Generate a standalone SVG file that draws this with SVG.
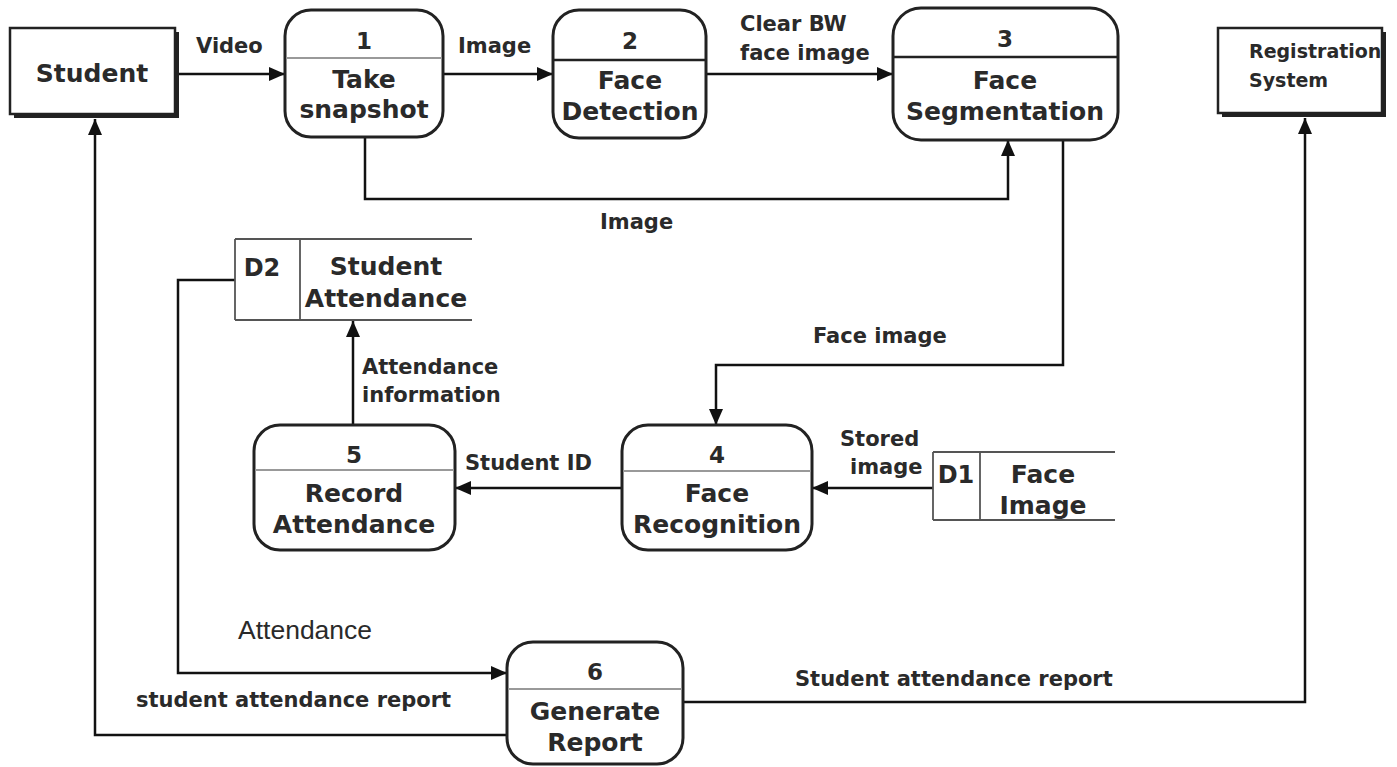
<svg xmlns="http://www.w3.org/2000/svg" width="1397" height="767" viewBox="0 0 1397 767">
<defs>
<marker id="arr" viewBox="0 0 16 14" refX="16" refY="7" markerWidth="16" markerHeight="14" markerUnits="userSpaceOnUse" orient="auto">
<path d="M0,0 L16,7 L0,14 Z" fill="#111"/>
</marker>
</defs>
<style>
.proc{fill:#fff;stroke:#222;stroke-width:3}
.ext{fill:#fff;stroke:#222;stroke-width:2.5}
.shadow{fill:#222}
.div{stroke:#999;stroke-width:2}
.divd{stroke:#222;stroke-width:2.5}
.ds{stroke:#555;stroke-width:1.8;fill:none}
.t{font-family:"DejaVu Sans",Verdana,sans-serif;font-weight:bold;fill:#2a2a2a;font-size:25px;text-anchor:middle}
.n{font-family:"DejaVu Sans",Verdana,sans-serif;font-weight:bold;fill:#2a2a2a;font-size:23px;text-anchor:middle}
.l{font-family:"DejaVu Sans",Verdana,sans-serif;font-weight:bold;fill:#2a2a2a;font-size:21px}
.lr{font-family:"Liberation Sans",Arial,sans-serif;fill:#2a2a2a;font-size:26.5px}
.c{fill:none;stroke:#111;stroke-width:2.5}
</style>
<rect width="1397" height="767" fill="#fff"/>

<g id="connectors">
<line class="c" x1="176" y1="74" x2="285" y2="74" marker-end="url(#arr)"/>
<line class="c" x1="443" y1="74" x2="553" y2="74" marker-end="url(#arr)"/>
<line class="c" x1="706" y1="74" x2="893" y2="74" marker-end="url(#arr)"/>
<polyline class="c" points="365,137 365,199 1008,199 1008,140" marker-end="url(#arr)"/>
<polyline class="c" points="1063,140 1063,365 716,365 716,425" marker-end="url(#arr)"/>
<line class="c" x1="353" y1="425" x2="353" y2="321" marker-end="url(#arr)"/>
<line class="c" x1="622" y1="488" x2="455" y2="488" marker-end="url(#arr)"/>
<line class="c" x1="933" y1="488" x2="812" y2="488" marker-end="url(#arr)"/>
<polyline class="c" points="235,280 178,280 178,673 507,673" marker-end="url(#arr)"/>
<polyline class="c" points="507,735 95,735 95,119" marker-end="url(#arr)"/>
<polyline class="c" points="683,702 1305,702 1305,118" marker-end="url(#arr)"/>
<text class="l" x="196" y="53">Video</text>
<text class="l" x="458" y="53">Image</text>
<text class="l" x="740" y="31">Clear BW</text>
<text class="l" x="740" y="60">face image</text>
<text class="l" x="600" y="229">Image</text>
<text class="l" x="813" y="343">Face image</text>
<text class="l" x="362" y="374">Attendance</text>
<text class="l" x="362" y="402">information</text>
<text class="l" x="465" y="470">Student ID</text>
<text class="l" x="840" y="446">Stored</text>
<text class="l" x="850" y="474">image</text>
<text class="lr" x="238" y="639">Attendance</text>
<text class="l" x="136" y="707">student attendance report</text>
<text class="l" x="795" y="686">Student attendance report</text>
</g>

<g id="student">
<rect class="shadow" x="14" y="32" width="165" height="86"/>
<rect class="ext" x="10" y="28" width="165" height="86"/>
<text class="t" x="92" y="82">Student</text>
</g>

<g id="registration">
<rect class="shadow" x="1222" y="32" width="164" height="85"/>
<rect class="ext" x="1218" y="28" width="164" height="85"/>
<text class="l" x="1249" y="58" style="font-size:19px">Registration</text>
<text class="l" x="1249" y="87" style="font-size:19px">System</text>
</g>

<g id="p1">
<rect class="proc" x="285" y="10" width="158" height="127" rx="26"/>
<line class="div" x1="286" y1="58" x2="442" y2="58"/>
<text class="n" x="364" y="49">1</text>
<text class="t" x="364" y="88">Take</text>
<text class="t" x="364" y="118">snapshot</text>
</g>

<g id="p2">
<rect class="proc" x="553" y="10" width="153" height="128" rx="26"/>
<line class="divd" x1="554" y1="60" x2="705" y2="60"/>
<text class="n" x="630" y="49">2</text>
<text class="t" x="630" y="89">Face</text>
<text class="t" x="630" y="120">Detection</text>
</g>

<g id="p3">
<rect class="proc" x="893" y="8" width="225" height="132" rx="28"/>
<line class="divd" x1="894" y1="57" x2="1117" y2="57"/>
<text class="n" x="1005" y="47">3</text>
<text class="t" x="1005" y="89">Face</text>
<text class="t" x="1005" y="120">Segmentation</text>
</g>

<g id="d2">
<line class="ds" x1="235" y1="239" x2="472" y2="239"/>
<line class="ds" x1="235" y1="320" x2="472" y2="320"/>
<line class="ds" x1="235" y1="239" x2="235" y2="320"/>
<line class="ds" x1="300" y1="239" x2="300" y2="320"/>
<text class="n" x="262" y="276" style="font-size:24px">D2</text>
<text class="t" x="386" y="275">Student</text>
<text class="t" x="386" y="307">Attendance</text>
</g>

<g id="p5">
<rect class="proc" x="254" y="425" width="201" height="125" rx="26"/>
<line class="div" x1="255" y1="470" x2="454" y2="470"/>
<text class="n" x="354" y="463">5</text>
<text class="t" x="354" y="502">Record</text>
<text class="t" x="354" y="533">Attendance</text>
</g>

<g id="p4">
<rect class="proc" x="622" y="425" width="190" height="125" rx="26"/>
<line class="div" x1="623" y1="471" x2="811" y2="471"/>
<text class="n" x="717" y="463">4</text>
<text class="t" x="717" y="502">Face</text>
<text class="t" x="717" y="533">Recognition</text>
</g>

<g id="d1">
<line class="ds" x1="933" y1="452" x2="1115" y2="452"/>
<line class="ds" x1="933" y1="520" x2="1115" y2="520"/>
<line class="ds" x1="933" y1="452" x2="933" y2="520"/>
<line class="ds" x1="980" y1="452" x2="980" y2="520"/>
<text class="n" x="956" y="483" style="font-size:24px">D1</text>
<text class="t" x="1043" y="483">Face</text>
<text class="t" x="1043" y="514">Image</text>
</g>

<g id="p6">
<rect class="proc" x="507" y="642" width="176" height="122" rx="26"/>
<line class="div" x1="508" y1="689" x2="682" y2="689"/>
<text class="n" x="595" y="680">6</text>
<text class="t" x="595" y="720">Generate</text>
<text class="t" x="595" y="751">Report</text>
</g>
</svg>
